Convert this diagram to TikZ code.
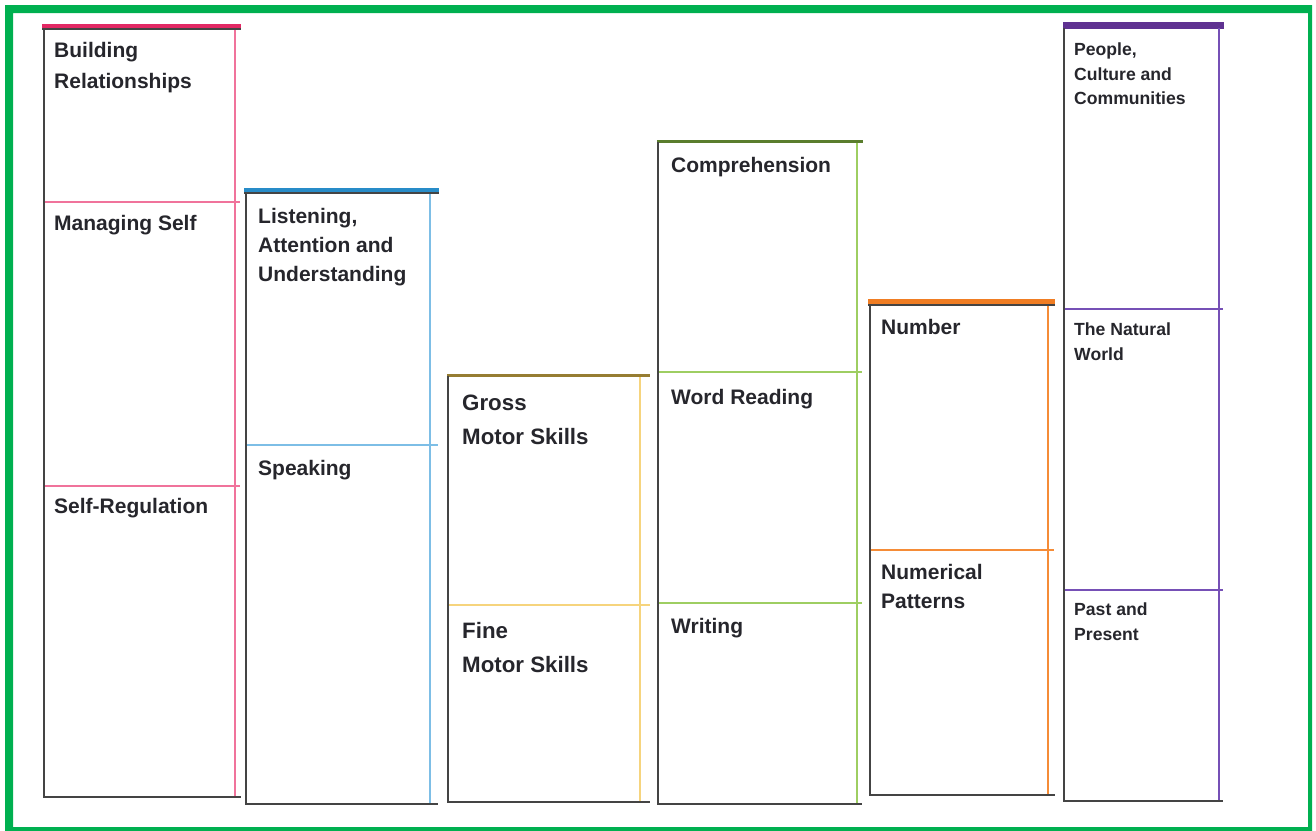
\documentclass[tikz,border=0pt]{standalone}
\usepackage{fontspec}
\setmainfont{Liberation Sans}
\definecolor{frameg}{RGB}{0,176,80}
\definecolor{edgec}{RGB}{68,68,68}
\definecolor{txt}{RGB}{38,38,44}
\definecolor{pinkbar}{RGB}{226,40,100}
\definecolor{pinkln}{RGB}{240,115,155}
\definecolor{bluebar}{RGB}{40,140,200}
\definecolor{blueln}{RGB}{125,190,230}
\definecolor{yelbar}{RGB}{150,125,50}
\definecolor{yelln}{RGB}{246,212,125}
\definecolor{grnbar}{RGB}{90,125,45}
\definecolor{grnln}{RGB}{158,206,98}
\definecolor{orgbar}{RGB}{240,125,35}
\definecolor{orgln}{RGB}{245,140,55}
\definecolor{purbar}{RGB}{95,50,145}
\definecolor{purln}{RGB}{118,80,182}
\tikzset{
  edgeline/.style={draw=edgec, line width=2},
  colline/.style={line width=2},
  divline/.style={line width=1.5},
  lbl/.style={anchor=north west, inner sep=0, align=left, text=txt},
  lblA/.style={lbl, font=\fontsize{21}{31}\selectfont\bfseries},
  lblD/.style={lbl, font=\fontsize{21}{29}\selectfont\bfseries},
  lblB/.style={lbl, font=\fontsize{22.3}{33.8}\selectfont\bfseries},
  lblC/.style={lbl, font=\fontsize{17.6}{24.5}\selectfont\bfseries},
}
\begin{document}
\begin{tikzpicture}[x=1pt,y=-1pt]
\useasboundingbox (0,0) rectangle (1316,830);
% green frame
\fill[frameg, even odd rule] (5,5) rectangle (1312,832) (13,13) rectangle (1308,827);

% column 1 : pink
\fill[pinkbar] (42,23.5) rectangle (241,28.5);
\draw[divline, pinkln] (43,202) -- (240,202);
\draw[divline, pinkln] (43,486) -- (240,486);
\draw[colline, pinkln] (234.5,28) -- (234.5,797);
\draw[edgeline] (42,29) -- (241,29);
\draw[edgeline] (43.5,29) -- (43.5,797) -- (241,797);
\node[lblA] (c1a) at (54,42.5) {Building\\Relationships};
\node[lblA] (c1b) at (54,215.5) {Managing Self};
\node[lblA] (c1c) at (54,498.5) {Self-Regulation};

% column 2 : blue
\fill[bluebar] (244,188) rectangle (439,192);
\draw[divline, blueln] (245,445) -- (438,445);
\draw[colline, blueln] (430,192) -- (430,804);
\draw[edgeline] (244,192.8) -- (439,192.8);
\draw[edgeline] (245.5,192.8) -- (245.5,804) -- (438,804);
\node[lblD] (c2a) at (258,208.5) {Listening,\\Attention and\\Understanding};
\node[lblD] (c2b) at (258,460.5) {Speaking};

% column 3 : yellow
\draw[divline, yelln] (448,605) -- (650,605);
\draw[colline, yelln] (639.5,376) -- (639.5,802);
\draw[line width=2.8, yelbar] (447,375.5) -- (650,375.5);
\draw[edgeline] (448,376) -- (448,802) -- (650,802);
\node[lblB] (c3a) at (462,394.5) {Gross\\Motor Skills};
\node[lblB] (c3b) at (462,622.5) {Fine\\Motor Skills};

% column 4 : green
\draw[divline, grnln] (658,372) -- (862,372);
\draw[divline, grnln] (658,603) -- (862,603);
\draw[colline, grnln] (857,142) -- (857,804);
\draw[line width=2.8, grnbar] (657,141.5) -- (863,141.5);
\draw[edgeline] (658,142) -- (658,804) -- (862,804);
\node[lblA] (c4a) at (671,157) {Comprehension};
\node[lblA] (c4b) at (671,389.5) {Word Reading};
\node[lblA] (c4c) at (671,618.5) {Writing};

% column 5 : orange
\fill[orgbar] (868,299) rectangle (1055,303.5);
\draw[divline, orgln] (869,550) -- (1054,550);
\draw[colline, orgln] (1048,304) -- (1048,795);
\draw[edgeline] (868,304.5) -- (1055,304.5);
\draw[edgeline] (869.5,304.5) -- (869.5,795) -- (1055,795);
\node[lblA] (c5a) at (881,319.5) {Number};
\node[lblD] (c5b) at (881,564.5) {Numerical\\Patterns};

% column 6 : purple
\fill[purbar] (1062.5,22) rectangle (1224,28.5);
\draw[divline, purln] (1063,309) -- (1223,309);
\draw[divline, purln] (1063,590) -- (1223,590);
\draw[colline, purln] (1218.5,28) -- (1218.5,801);
\draw[edgeline] (1064,28) -- (1064,801) -- (1223,801);
\node[lblC] (c6a) at (1074,42.8) {People,\\Culture and\\Communities};
\node[lblC] (c6b) at (1074,322.8) {The Natural\\World};
\node[lblC] (c6c) at (1074,602.8) {Past and\\Present};
\end{tikzpicture}
\end{document}
